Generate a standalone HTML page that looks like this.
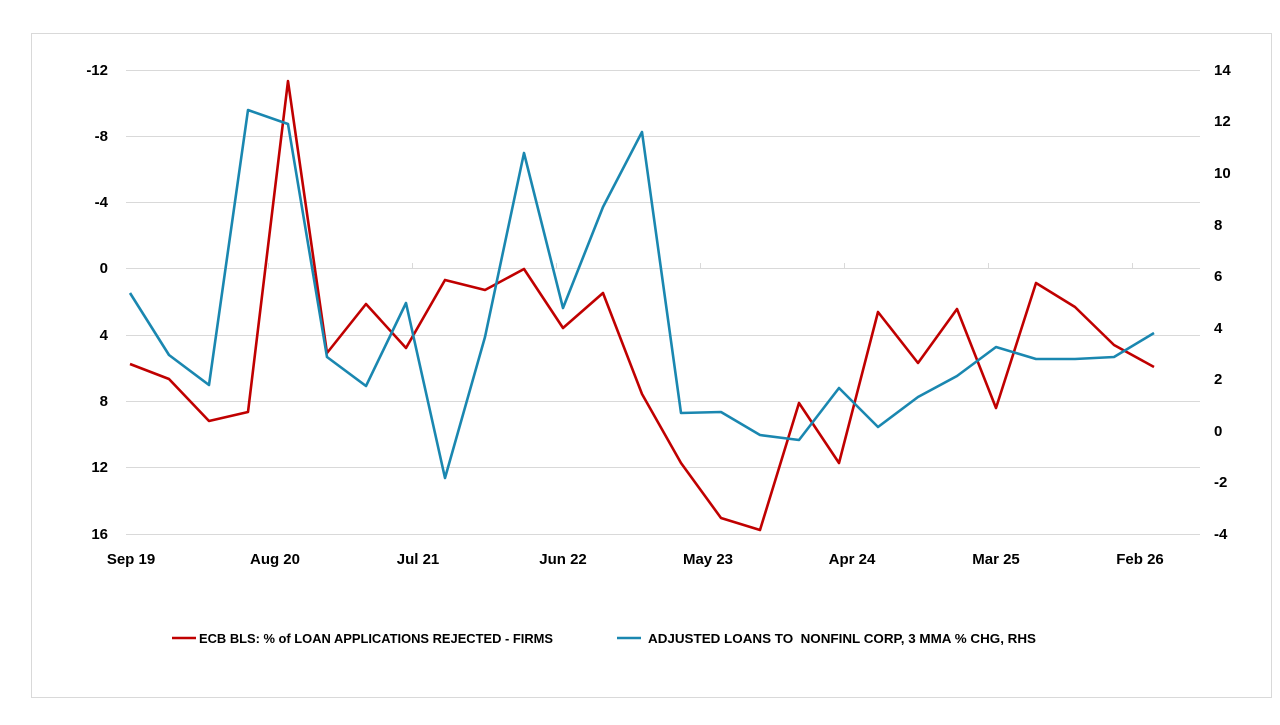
<!DOCTYPE html>
<html><head><meta charset="utf-8"><style>
body{margin:0;background:#fff;width:1280px;height:720px;overflow:hidden}
svg text{font-family:"Liberation Sans",sans-serif;font-weight:bold;font-size:15px;fill:#000}
</style></head><body>
<svg width="1280" height="720" xmlns="http://www.w3.org/2000/svg">
<rect x="31.5" y="33.5" width="1240" height="664" fill="#fff" stroke="#d9d9d9"/>
<g stroke="#d9d9d9" stroke-width="1">
<line x1="126" x2="1200" y1="70.5" y2="70.5"/>
<line x1="126" x2="1200" y1="136.5" y2="136.5"/>
<line x1="126" x2="1200" y1="202.5" y2="202.5"/>
<line x1="126" x2="1200" y1="268.5" y2="268.5"/>
<line x1="126" x2="1200" y1="335.5" y2="335.5"/>
<line x1="126" x2="1200" y1="401.5" y2="401.5"/>
<line x1="126" x2="1200" y1="467.5" y2="467.5"/>
<line x1="126" x2="1200" y1="534.5" y2="534.5"/>
<line x1="268.5" x2="268.5" y1="263" y2="268"/>
<line x1="412.5" x2="412.5" y1="263" y2="268"/>
<line x1="556.5" x2="556.5" y1="263" y2="268"/>
<line x1="700.5" x2="700.5" y1="263" y2="268"/>
<line x1="844.5" x2="844.5" y1="263" y2="268"/>
<line x1="988.5" x2="988.5" y1="263" y2="268"/>
<line x1="1132.5" x2="1132.5" y1="263" y2="268"/>
</g>
<g text-anchor="end">
<text x="108" y="75">-12</text><text x="108" y="141">-8</text><text x="108" y="207">-4</text>
<text x="108" y="273">0</text><text x="108" y="340">4</text><text x="108" y="406">8</text>
<text x="108" y="472">12</text><text x="108" y="539">16</text>
</g>
<g text-anchor="start">
<text x="1214" y="75">14</text><text x="1214" y="126">12</text><text x="1214" y="178">10</text>
<text x="1214" y="230">8</text><text x="1214" y="281">6</text><text x="1214" y="333">4</text>
<text x="1214" y="384">2</text><text x="1214" y="436">0</text><text x="1214" y="487">-2</text>
<text x="1214" y="539">-4</text>
</g>
<g text-anchor="middle">
<text x="131" y="564">Sep 19</text><text x="275" y="564">Aug 20</text><text x="418" y="564">Jul 21</text>
<text x="563" y="564">Jun 22</text><text x="708" y="564">May 23</text><text x="852" y="564">Apr 24</text>
<text x="996" y="564">Mar 25</text><text x="1140" y="564">Feb 26</text>
</g>
<polyline fill="none" stroke="#c00000" stroke-width="2.6" stroke-linejoin="round" points="130,364 169,379 209,421 248,412 288,81 327,353 366,304 406,348 445,280 485,290 524,269 563,328 603,293 642,394 681,463 721,518 760,530 799,403 839,463 878,312 918,363 957,309 996,408 1036,283 1075,307 1114,345 1154,367"/>
<polyline fill="none" stroke="#1a87b0" stroke-width="2.6" stroke-linejoin="round" points="130,293 169,355 209,385 248,110 288,124 327,357 366,386 406,303 445,478 485,337 524,153 563,308 603,207 642,132 681,413 721,412 760,435 799,440 839,388 878,427 918,397 957,376 996,347 1036,359 1075,359 1114,357 1154,333"/>
<line x1="172" x2="196" y1="638" y2="638" stroke="#c00000" stroke-width="2.6"/>
<text x="199" y="643" style="font-size:12.5px" textLength="354" lengthAdjust="spacingAndGlyphs">ECB BLS: % of LOAN APPLICATIONS REJECTED - FIRMS</text>
<line x1="617" x2="641" y1="638" y2="638" stroke="#1a87b0" stroke-width="2.6"/>
<text x="648" y="643" style="font-size:12.5px;white-space:pre" xml:space="preserve" textLength="388" lengthAdjust="spacingAndGlyphs">ADJUSTED LOANS TO  NONFINL CORP, 3 MMA % CHG, RHS</text>
</svg>
</body></html>
